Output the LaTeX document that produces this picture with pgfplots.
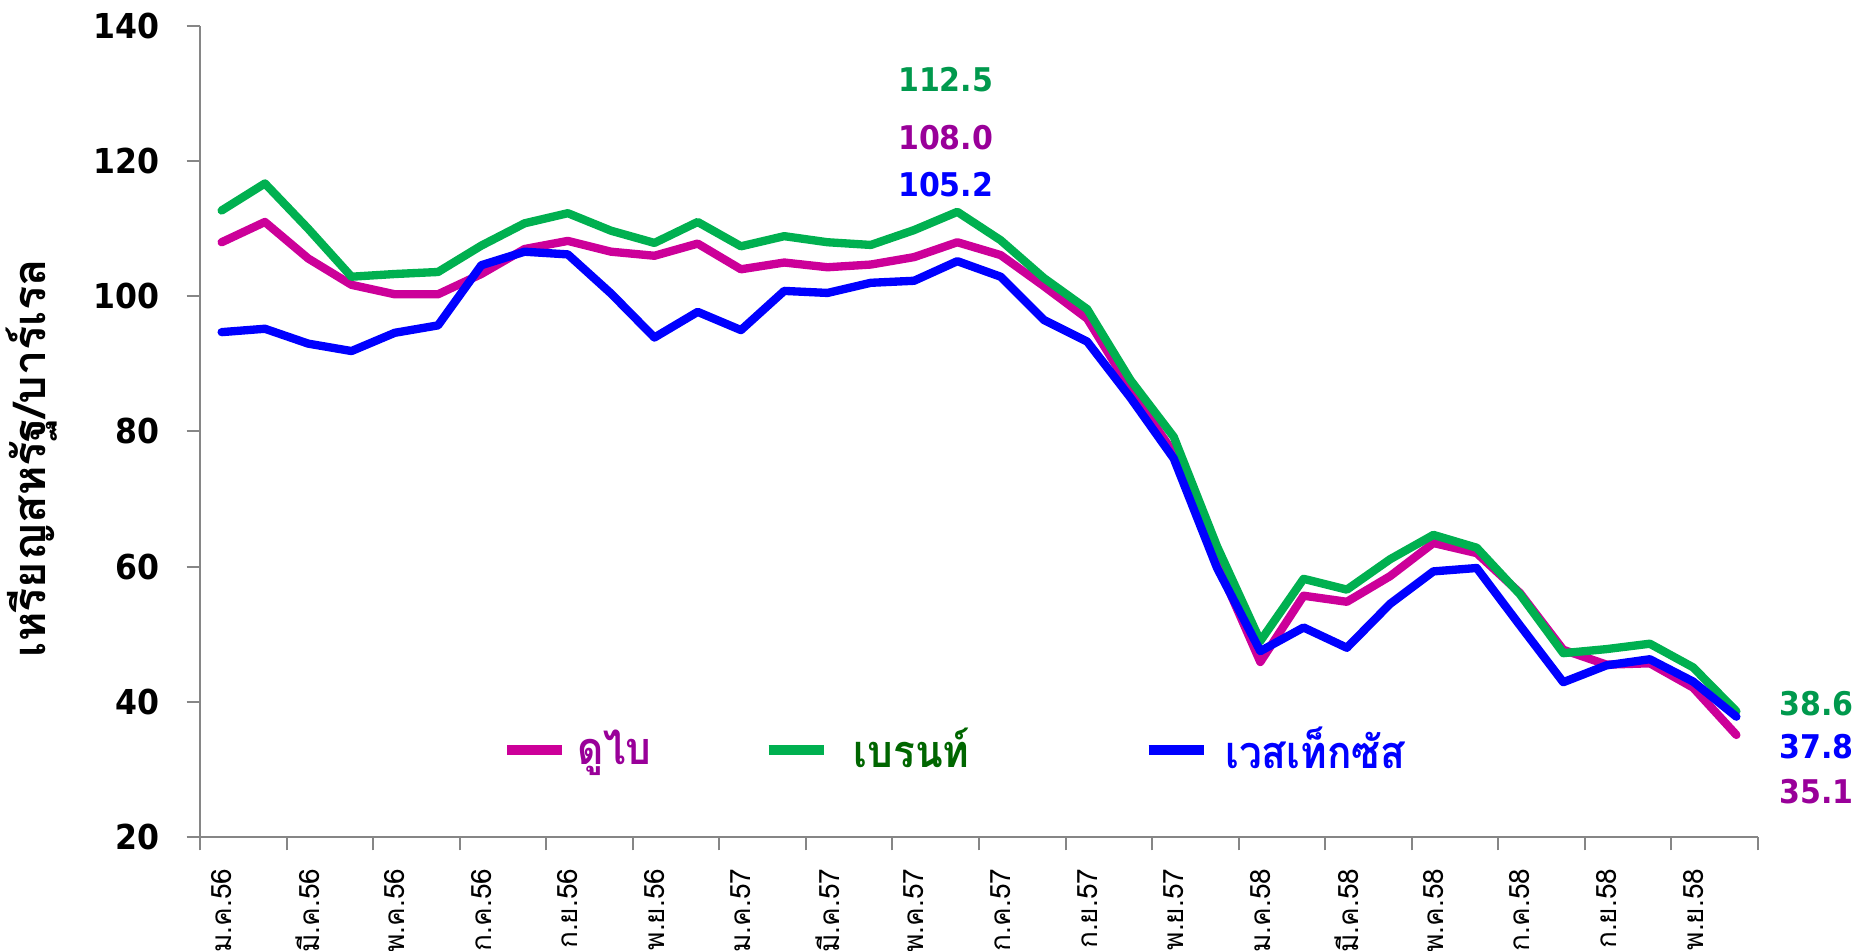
\documentclass[border=0pt]{standalone}
\usepackage{fontspec}
\usepackage{pgfplots}
\usepackage{pgfplotstable}
\pgfplotsset{compat=1.18}
\setmainfont{DejaVu Sans}
\newfontfamily\numfont[FakeStretch=0.92]{DejaVu Sans}
\newfontfamily\thai[Script=Thai]{Loma}
\newfontfamily\thaileg[Script=Thai,FakeStretch=0.9]{Loma}

\definecolor{dubai}{HTML}{CC0099}
\definecolor{brent}{HTML}{00B050}
\definecolor{wti}{HTML}{0000FF}
\definecolor{dubaitxt}{HTML}{990099}
\definecolor{brenttxt}{HTML}{00994D}
\definecolor{brentleg}{HTML}{006600}
\definecolor{axisgray}{HTML}{868686}

% monthly averages, Jan 2013 (0) .. Dec 2015 (35)
\pgfplotstableread{
i  dubai  brent  wti
0  108.0  112.7  94.7
1  111.0  116.7  95.2
2  105.6  110.0  93.0
3  101.7  102.9  91.9
4  100.3  103.3  94.6
5  100.3  103.6  95.7
6  103.3  107.5  104.6
7  107.0  110.8  106.6
8  108.2  112.3  106.2
9  106.6  109.7  100.4
10 106.0  107.9  93.9
11 107.8  111.0  97.7
12 104.0  107.4  95.0
13 105.0  108.9  100.8
14 104.3  108.0  100.5
15 104.7  107.6  102.0
16 105.8  109.8  102.3
17 108.0  112.5  105.2
18 106.1  108.3  102.9
19 101.5  102.7  96.5
20 96.7   98.1   93.3
21 86.3   87.6   85.0
22 76.8   79.2   76.0
23 60.5   63.0   59.8
24 45.9   49.0   47.5
25 55.7   58.2   51.0
26 54.8   56.6   48.0
27 58.6   61.1   54.5
28 63.5   64.7   59.3
29 62.0   62.8   59.8
30 56.1   55.9   51.3
31 47.7   47.2   42.9
32 45.5   47.8   45.4
33 45.7   48.6   46.3
34 42.1   45.1   43.0
35 35.1   38.6   37.8
}\prices

\begin{document}
\begin{tikzpicture}
\begin{axis}[
  scale only axis,
  width=467.4pt, height=243.3pt,
  xmin=-0.5, xmax=35.5,
  ymin=20, ymax=140,
  axis x line*=bottom, axis y line*=left,
  axis line style={-, draw=axisgray, line width=0.6pt},
  clip=false,
  tick align=outside,
  major tick length=4pt, minor tick length=4pt,
  tick style={draw=axisgray, line width=0.6pt},
  major x tick style={draw=none},
  ytick={20,40,...,140},
  xtick={0,2,...,34},
  minor xtick={-0.5,1.5,...,35.5},
  xticklabels={ม.ค.56,มี.ค.56,พ.ค.56,ก.ค.56,ก.ย.56,พ.ย.56,ม.ค.57,มี.ค.57,พ.ค.57,ก.ค.57,ก.ย.57,พ.ย.57,ม.ค.58,มี.ค.58,พ.ค.58,ก.ค.58,ก.ย.58,พ.ย.58},
  xticklabel style={font=\thai\fontsize{8.4}{10}\selectfont, yshift=-2pt, rotate=90, anchor=east},
  yticklabel style={font=\numfont\bfseries\fontsize{10.3}{12}\selectfont, xshift=-4.6pt},
  /pgf/number format/assume math mode=true,
  ylabel={เหรียญสหรัฐ/บาร์เรล},
  ylabel style={font=\thai\bfseries\fontsize{13.5}{15}\selectfont, at={(axis description cs:-0.108,0.467)}, anchor=center},
  legend columns=3,
  legend image code/.code={\draw[#1, line width=3pt, line cap=butt] (0pt,0pt) -- (16.5pt,0pt);},
  legend style={at={(axis description cs:0.187,0.107)}, anchor=west, draw=none, fill=none,
    font=\thaileg\bfseries\fontsize{13.5}{16}\selectfont,
    /tikz/column 1/.style={column sep=1pt},
    /tikz/column 3/.style={column sep=5.6pt},
    /tikz/column 5/.style={column sep=3pt},
    /tikz/column 2/.style={column sep=31.6pt},
    /tikz/column 4/.style={column sep=50.2pt}},
  legend entries={\textcolor{dubaitxt}{ดูไบ},\textcolor{brentleg}{เบรนท์},\textcolor{wti}{เวสเท็กซัส}},
]
\addplot[dubai, line width=2.5pt, line cap=round, line join=round] table[x=i, y=dubai] {\prices};
\addplot[brent, line width=2.5pt, line cap=round, line join=round] table[x=i, y=brent] {\prices};
\addplot[wti, line width=2.5pt, line cap=round, line join=round] table[x=i, y=wti] {\prices};

\begin{scope}[font=\numfont\bfseries\fontsize{9.8}{12}\selectfont]
\node[text=brenttxt] at (axis cs:16.73,132.0) {112.5};
\node[text=dubaitxt] at (axis cs:16.73,123.5) {108.0};
\node[text=wti] at (axis cs:16.73,116.5) {105.2};
\node[text=brenttxt] at (axis cs:36.85,39.7) {38.6};
\node[text=wti] at (axis cs:36.85,33.3) {37.8};
\node[text=dubaitxt] at (axis cs:36.85,26.7) {35.1};
\end{scope}
\coordinate (o) at (rel axis cs:0,0);
\end{axis}
\pgfresetboundingbox
\path (o) ++(-60pt,-34.2pt) rectangle ++(558.6pt,285.3pt);
\end{tikzpicture}
\end{document}
